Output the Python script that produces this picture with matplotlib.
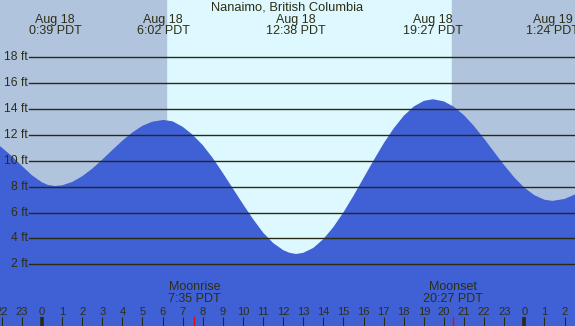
import matplotlib
matplotlib.use("Agg")
import matplotlib.pyplot as plt
from matplotlib import transforms

plt.rcParams['font.family'] = ['Liberation Sans', 'DejaVu Sans']

# ───────── DATA (hours from midnight Aug 18, height in ft) ─────────
title = "Nanaimo, British Columbia"

tide_hours = [-2.09, -1.5, -1.0, -0.5, 0.0, 0.3, 0.65, 1.0, 1.5, 2.0, 2.5, 3.0,
              3.5, 4.0, 4.5, 5.0, 5.5, 6.04, 6.5, 7.0, 7.5, 8.0, 8.5, 9.0,
              9.5, 10.0, 10.5, 11.0, 11.5, 12.0, 12.3, 12.63, 13.0, 13.5, 14.0,
              14.5, 15.0, 15.5, 16.0, 16.5, 17.0, 17.5, 18.0, 18.5, 19.0, 19.45,
              20.0, 20.5, 21.0, 21.5, 22.0, 22.5, 23.0, 23.5, 24.0, 24.5, 25.0,
              25.4, 26.0, 26.52]
tide_feet = [11.13, 10.36, 9.60, 8.88, 8.33, 8.13, 8.05, 8.10, 8.36, 8.80, 9.39, 10.09,
             10.83, 11.55, 12.19, 12.70, 13.02, 13.15, 13.04, 12.62, 12.0, 11.2, 10.2, 9.05,
             7.85, 6.65, 5.5, 4.45, 3.65, 3.1, 2.9, 2.8, 2.89, 3.27, 3.95,
             4.88, 6.02, 7.30, 8.67, 10.03, 11.34, 12.50, 13.47, 14.19, 14.62, 14.75,
             14.58, 14.16, 13.51, 12.67, 11.70, 10.67, 9.65, 8.71, 7.92, 7.34, 6.99,
             6.9, 7.05, 7.4]

extreme_hours = [0.65, 6.033, 12.633, 19.45, 25.4]
extreme_labels = ["Aug 18\n0:39 PDT", "Aug 18\n6:02 PDT", "Aug 18\n12:38 PDT",
                  "Aug 18\n19:27 PDT", "Aug 19\n1:24 PDT"]

sunrise = 6.17
sunset = 20.4
moon_hours = [7.583, 20.45]
moon_labels = ["Moonrise\n7:35 PDT", "Moonset\n20:27 PDT"]

grid_feet = [2, 4, 6, 8, 10, 12, 14, 16, 18]
hour_ticks = list(range(-2, 27))

# ───────── FIGURE ─────────
x0, x1 = -2.09, 26.52
y0, y1 = -2.76, 22.41
text_col = '#2e2e14'

fig = plt.figure(figsize=(5.75, 3.26), dpi=100)
ax = fig.add_axes([0, 0, 1, 1])
ax.set_xlim(x0, x1)
ax.set_ylim(y0, y1)
ax.axis('off')

ax.axvspan(x0, x1, color='#ddf8ff', zorder=0)
ax.axvspan(x0, sunrise, color='#b0c4de', zorder=1)
ax.axvspan(sunset, x1, color='#b0c4de', zorder=1)

ax.fill_between(tide_hours, y0, tide_feet, color='#4060d6', lw=0, zorder=2)

for f in grid_feet:
    ax.plot([-0.65, x1], [f, f], color='#2a2a10', lw=1.0, zorder=3)
    ax.text(-0.72, f, f"{f} ft", ha='right', va='center', fontsize=8.7,
            color=text_col, zorder=4)

bt = transforms.blended_transform_factory(ax.transData, fig.transFigure)
H = 326.0

fig.text(0.5, 1 - 8 / H, title, ha='center', va='center', fontsize=9.3, color=text_col)

for h, lab in zip(extreme_hours, extreme_labels):
    ax.text(h, 1 - 25.5 / H, lab, transform=bt, ha='center', va='center',
            fontsize=9, color=text_col, linespacing=0.95, zorder=5)

for h, lab in zip(moon_hours, moon_labels):
    ax.text(h, 1 - 293 / H, lab, transform=bt, ha='center', va='center',
            fontsize=9, color=text_col, linespacing=0.95, zorder=5)
    ax.plot([h, h], [1 - 317 / H, 0], transform=bt, color='red', lw=1, zorder=5)

for h in hour_ticks:
    ax.text(h, 1 - 311.7 / H, str(h % 24), transform=bt, ha='center', va='center',
            fontsize=8, color=text_col, zorder=5)
    lw = 2.6 if h % 24 == 0 else 0.8
    ax.plot([h, h], [1 - 317 / H, 0], transform=bt, color='#2a2a10', lw=lw,
            solid_capstyle='butt', zorder=5)

fig.savefig('out.png', dpi=100)
